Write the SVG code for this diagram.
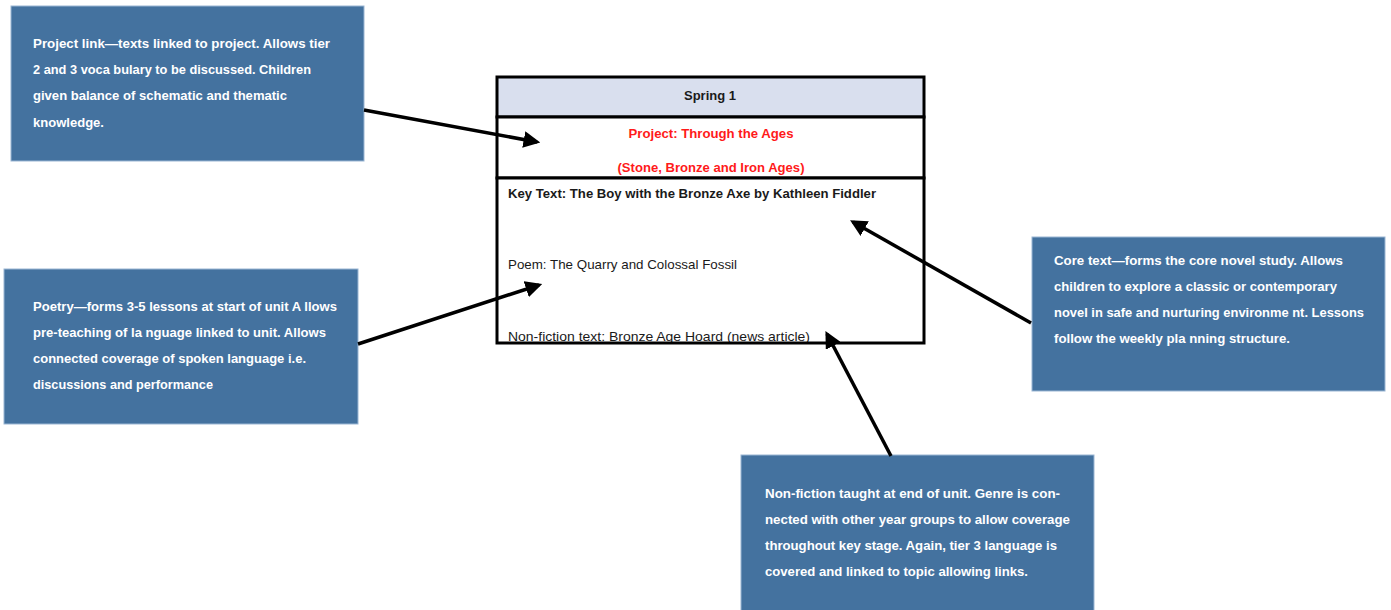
<svg xmlns="http://www.w3.org/2000/svg" width="1391" height="610" viewBox="0 0 1391 610">
<style>
.note{fill:#44729f;stroke:#9ab6d3;stroke-width:1}
.nt{font-family:"Liberation Sans",Arial,sans-serif;font-size:13px;fill:#ffffff;font-weight:bold}
.tt{font-family:"Liberation Sans",Arial,sans-serif;font-size:13px;fill:#1a1a1a}
.b{font-weight:bold}
.red{fill:#ff1a1a;font-weight:bold}
.conn{stroke:#000;stroke-width:3.5;fill:none;marker-end:url(#ah)}
.cell{fill:#fff;stroke:#000;stroke-width:3}
</style>
<defs>
<marker id="ah" viewBox="0 0 10 10" refX="8" refY="5" markerWidth="4.8" markerHeight="4.8" orient="auto" markerUnits="strokeWidth">
<path d="M0,0 L10,5 L0,10 z" fill="#000"/>
</marker>
</defs>
<rect width="1391" height="610" fill="#fff"/>

<g id="table">
<rect x="497" y="77" width="427" height="40" fill="#d9dfee" stroke="#000" stroke-width="3"/>
<rect x="497" y="117" width="427" height="61" class="cell"/>
<text class="tt b" x="710" y="100" text-anchor="middle" textLength="52" lengthAdjust="spacingAndGlyphs">Spring 1</text>
<text class="tt red" x="711" y="138" text-anchor="middle" textLength="165" lengthAdjust="spacingAndGlyphs">Project: Through the Ages</text>
<text class="tt red" x="711" y="172" text-anchor="middle" textLength="187" lengthAdjust="spacingAndGlyphs">(Stone, Bronze and Iron Ages)</text>
<rect x="497" y="178" width="427" height="165" fill="#fff"/>
<text class="tt b" x="508" y="198" textLength="368" lengthAdjust="spacingAndGlyphs">Key Text: The Boy with the Bronze Axe by Kathleen Fiddler</text>
<text class="tt" x="508" y="269" textLength="229" lengthAdjust="spacingAndGlyphs">Poem: The Quarry and Colossal Fossil</text>
<text class="tt" x="508" y="341" textLength="302" lengthAdjust="spacingAndGlyphs">Non-fiction text: Bronze Age Hoard (news article)</text>
<rect x="497" y="178" width="427" height="165" fill="none" stroke="#000" stroke-width="3"/>
</g>

<g id="note-project">
<rect class="note" x="11" y="6" width="353" height="155"/>
<text class="nt" x="33" y="48" textLength="297" lengthAdjust="spacingAndGlyphs">Project link—texts linked to project. Allows tier</text>
<text class="nt" x="33" y="74" textLength="278" lengthAdjust="spacingAndGlyphs">2 and 3 voca bulary to be discussed.  Children</text>
<text class="nt" x="33" y="100" textLength="254" lengthAdjust="spacingAndGlyphs">given balance  of schematic and thematic</text>
<text class="nt" x="33" y="127" textLength="71" lengthAdjust="spacingAndGlyphs">knowledge.</text>
</g>

<g id="note-poetry">
<rect class="note" x="4" y="269" width="354" height="155"/>
<text class="nt" x="33" y="311" textLength="304" lengthAdjust="spacingAndGlyphs">Poetry—forms 3-5 lessons at start of unit A llows</text>
<text class="nt" x="33" y="337" textLength="293" lengthAdjust="spacingAndGlyphs">pre-teaching of la nguage linked to unit. Allows</text>
<text class="nt" x="33" y="363" textLength="273" lengthAdjust="spacingAndGlyphs">connected coverage of spoken  language i.e.</text>
<text class="nt" x="33" y="389" textLength="180" lengthAdjust="spacingAndGlyphs">discussions and performance</text>
</g>

<g id="note-core">
<rect class="note" x="1032" y="237" width="353" height="154"/>
<text class="nt" x="1054" y="265" textLength="289" lengthAdjust="spacingAndGlyphs">Core text—forms the core novel study. Allows</text>
<text class="nt" x="1054" y="291" textLength="283" lengthAdjust="spacingAndGlyphs">children to explore a classic or contemporary</text>
<text class="nt" x="1054" y="317" textLength="310" lengthAdjust="spacingAndGlyphs">novel in safe and nurturing environme nt. Lessons</text>
<text class="nt" x="1054" y="343" textLength="236" lengthAdjust="spacingAndGlyphs">follow the  weekly pla nning structure.</text>
</g>

<g id="note-nonfiction">
<rect class="note" x="741" y="455" width="353" height="160"/>
<text class="nt" x="765" y="498" textLength="295" lengthAdjust="spacingAndGlyphs">Non-fiction taught at end of unit. Genre is con-</text>
<text class="nt" x="765" y="524" textLength="305" lengthAdjust="spacingAndGlyphs">nected with other year groups to allow coverage</text>
<text class="nt" x="765" y="550" textLength="292" lengthAdjust="spacingAndGlyphs">throughout  key stage. Again, tier 3 language is</text>
<text class="nt" x="765" y="576" textLength="263" lengthAdjust="spacingAndGlyphs">covered and linked to topic allowing  links.</text>
</g>

<g id="connectors">
<line class="conn" x1="364" y1="110" x2="537" y2="142"/>
<line class="conn" x1="358" y1="344" x2="539" y2="285"/>
<line class="conn" x1="1031" y1="323" x2="853" y2="222"/>
<line class="conn" x1="891" y1="456" x2="827" y2="334"/>
</g>
</svg>
